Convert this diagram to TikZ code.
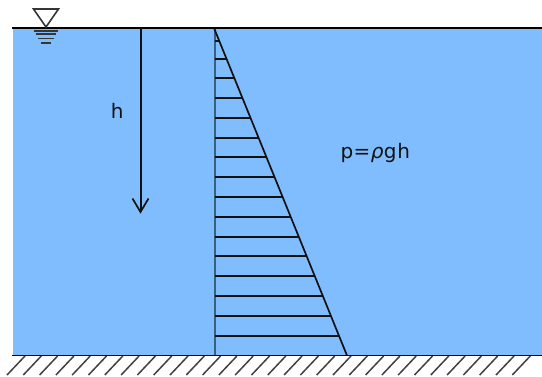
\documentclass[tikz,border=0pt]{standalone}
\usepackage{fontspec}
\setmainfont{DejaVu Sans}
\definecolor{water}{HTML}{80BDFF}
\definecolor{ink}{HTML}{111111}
\definecolor{wall}{HTML}{3B5F80}
\tikzset{
  surfaceline/.style={draw=black,line width=1.9pt},
  thinink/.style={draw=ink,line width=1.7pt},
  stemline/.style={draw=ink,line width=2pt},
  hatchline/.style={draw=ink!80,line width=1.5pt},
  symbolline/.style={draw=ink!85,line width=1.6pt},
  labeltext/.style={inner sep=0pt,font=\fontsize{20}{22}\selectfont,text=ink}
}
\begin{document}
\begin{tikzpicture}[x=1pt,y=-1pt]
\useasboundingbox (0,0) rectangle (542,376);
\fill[water] (13,28) rectangle (542,355.5);
% ground hatching
\foreach \k in {0,...,31}{
  \pgfmathsetmacro{\xx}{25+16.3*\k}
  \draw[hatchline] (\xx,356) -- (\xx-18,375);
}
% pressure triangle
\draw[draw=wall,line width=2pt] (214.5,28) -- (214.5,355.5);
\foreach \yy in {40.7,58.7,78.3,98.1,117.9,137.7,157.2,177.3,197.1,216.9,236.7,256.2,276.3,296.1,315.9,335.7}{
  \pgfmathsetmacro{\xe}{214+(\yy-28)*0.4067}
  \draw[thinink] (214.5,\yy) -- (\xe,\yy);
}
\coordinate (apex) at (214,28);
\coordinate (foot) at (347,355.5);
\draw[thinink] (apex) -- (foot);
% surface and bottom
\draw[surfaceline] (12,28) -- (542,28);
\draw[surfaceline] (12,355.5) -- (542,355.5);
% water level symbol
\draw[symbolline] (33.5,9) -- (58.5,9) -- (46,27) -- cycle;
\draw[symbolline] (33.5,30.7) -- (58,30.7);
\draw[symbolline] (36,34.2) -- (55.5,34.2);
\draw[symbolline] (38,38.5) -- (54,38.5);
\draw[symbolline] (41,43.2) -- (51,43.2);
% depth arrow
\coordinate (atop) at (140.5,28);
\coordinate (atip) at (140.5,212);
\draw[stemline] (atop) -- (atip);
\draw[thinink] (132.5,198.5) -- (atip) -- (148.5,198.5);
% labels
\node[labeltext] (hlabel) at (117.3,111) {h};
\node[labeltext,anchor=west] (plabel) at (340.5,153) {p\kern0.3pt=\kern0.3pt{\itshape ρ}\kern0.5pt g\kern0.8pt h};
\end{tikzpicture}
\end{document}
